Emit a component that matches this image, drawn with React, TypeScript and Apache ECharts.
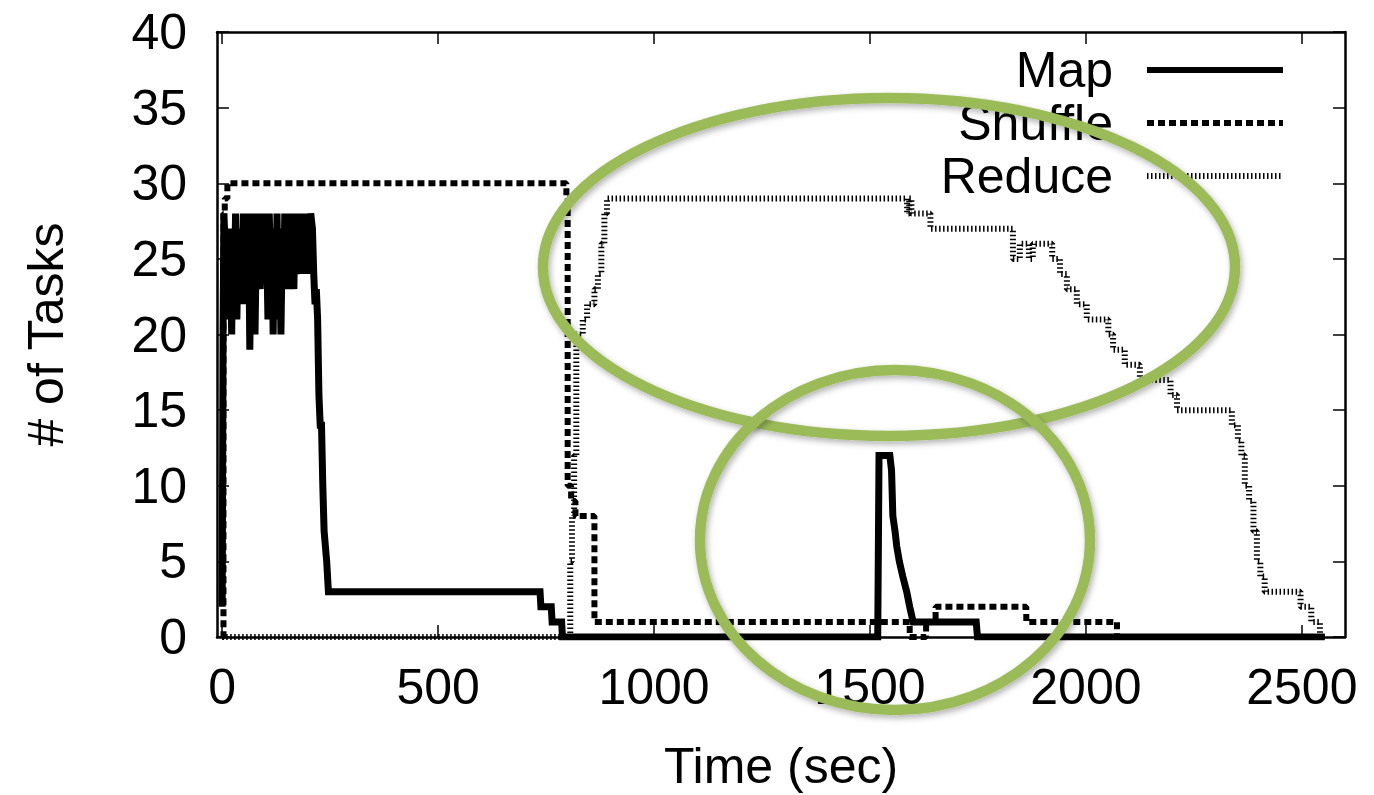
import React, { useEffect, useRef } from "react";
import * as echarts from "echarts";

const xTickValues = [0, 500, 1000, 1500, 2000, 2500];
const yTickValues = [0, 5, 10, 15, 20, 25, 30, 35, 40];

const mapSeries: [number, number][] = [
  [0, 2], [2, 20], [4, 28], [8, 25], [10, 22], [13, 27], [16, 21], [19, 26], [22, 20], [25, 27],
  [28, 23], [31, 28], [34, 21], [37, 26], [40, 22], [43, 27], [46, 23], [49, 28], [52, 22], [55, 26],
  [58, 24], [61, 28], [64, 19], [67, 27], [70, 22], [73, 28], [76, 20], [79, 26], [82, 25], [85, 28],
  [88, 23], [91, 27], [94, 25], [97, 28], [100, 24], [103, 26], [106, 21], [109, 28], [112, 24], [115, 27],
  [118, 20], [121, 26], [124, 23], [127, 28], [130, 21], [133, 27], [136, 20], [139, 26], [142, 23], [145, 28],
  [148, 25], [151, 27], [154, 23], [157, 28], [160, 24], [163, 27], [166, 23], [169, 28], [172, 24], [175, 26],
  [178, 25], [181, 28], [184, 24], [187, 27], [190, 25], [193, 28], [196, 24], [199, 28], [202, 26], [205, 28],
  [209, 27], [212, 24], [215, 22], [218, 23], [221, 21], [224, 16], [227, 14], [230, 14], [233, 10], [236, 7],
  [239, 6], [242, 5], [246, 3], [250, 3], [736, 3], [738, 2], [762, 2], [764, 1], [786, 1], [788, 0],
  [1518, 0], [1521, 12], [1546, 12], [1550, 11], [1553, 8], [1558, 7], [1562, 6], [1568, 5], [1576, 4],
  [1585, 3], [1592, 2], [1600, 1], [1746, 1], [1749, 0], [2553, 0],
];

const shuffleSeries: [number, number][] = [
  [0, 0], [3, 28], [6, 29], [12, 30], [792, 30], [797, 29], [800, 10], [808, 9], [818, 8], [862, 1],
  [1592, 0], [1630, 1], [1652, 2], [1862, 1], [2072, 0], [2553, 0],
];

const reduceSeries: [number, number][] = [
  [0, 0], [806, 5], [810, 8], [815, 12], [820, 20], [835, 21], [845, 22], [862, 23], [870, 24],
  [878, 26], [885, 28], [891, 29], [1586, 28], [1591, 29], [1596, 28], [1640, 27], [1831, 25],
  [1847, 26], [1868, 25], [1877, 26], [1922, 25], [1940, 24], [1956, 23], [1979, 22], [2002, 21],
  [2052, 20], [2063, 19], [2090, 18], [2125, 17], [2196, 16], [2211, 15], [2338, 14], [2352, 13],
  [2360, 12], [2368, 10], [2378, 9], [2388, 7], [2396, 5], [2404, 4], [2414, 3], [2497, 2],
  [2522, 1], [2542, 0], [2553, 0],
];

const legendNames = ["Map", "Shuffle", "Reduce"];

const FONT = '"Liberation Sans", Arial, Helvetica, sans-serif';

export default function App() {
  const ref = useRef<HTMLDivElement>(null);
  useEffect(() => {
    if (!ref.current) return;
    const chart = echarts.init(ref.current, undefined, { renderer: "svg" });
    const tickStyle = { inside: true, length: 12, lineStyle: { color: "#000", width: 1.5 } };
    const axisLine = { show: true, onZero: false, lineStyle: { color: "#000", width: 2.5 } };
    const xBase = { type: "value" as const, min: -12, max: 2600, splitLine: { show: false }, axisLine };
    const yBase = { type: "value" as const, min: 0, max: 40, interval: 5, splitLine: { show: false }, axisLine };
    const lineStyles = [
      { color: "#000", width: 7, type: "solid" as any },
      { color: "#000", width: 6, type: [7, 4] as any },
      { color: "#000", width: 6, type: [1.5, 2.5] as any },
    ];
    const legendY = [70, 123, 176];
    const legendGraphics: any[] = [];
    legendNames.forEach((n, i) => {
      legendGraphics.push({
        type: "text",
        z: 50,
        style: { text: n, x: 1113, y: legendY[i], font: `50px ${FONT}`, fill: "#000", align: "right", verticalAlign: "middle" },
      });
      legendGraphics.push({
        type: "line",
        z: 50,
        shape: { x1: 1147, y1: legendY[i], x2: 1283, y2: legendY[i] },
        style: { stroke: "#000", lineWidth: 6, lineDash: i === 0 ? null : (lineStyles[i].type as number[]) },
      });
    });
    const ellipseStyle = {
      fill: "none",
      stroke: "#9bbb59",
      lineWidth: 10.5,
      shadowBlur: 6,
      shadowOffsetX: 2,
      shadowOffsetY: 3,
      shadowColor: "rgba(0,0,0,0.3)",
    };
    const fmt = (v: number) => String(v);
    chart.setOption({
      animation: false,
      backgroundColor: "#fff",
      textStyle: { fontFamily: FONT },
      grid: { left: 217, right: 29, top: 32, bottom: 158, outerBoundsMode: "none" } as any,
      xAxis: [
        {
          ...xBase,
          position: "bottom",
          name: "Time (sec)",
          nameLocation: "middle",
          nameGap: 104,
          nameTextStyle: { fontSize: 50, color: "#000", fontFamily: FONT },
          axisTick: { ...tickStyle, customValues: xTickValues },
          axisLabel: { customValues: xTickValues, formatter: fmt, fontSize: 50, color: "#000", margin: 25, fontFamily: FONT },
        },
        {
          ...xBase,
          position: "top",
          axisTick: { ...tickStyle, customValues: xTickValues },
          axisLabel: { show: false, customValues: xTickValues },
        },
      ],
      yAxis: [
        {
          ...yBase,
          position: "left",
          name: "# of Tasks",
          nameLocation: "middle",
          nameGap: 146,
          nameTextStyle: { fontSize: 50, color: "#000", fontFamily: FONT },
          axisTick: tickStyle,
          axisLabel: { fontSize: 50, color: "#000", margin: 30, fontFamily: FONT, formatter: fmt },
        },
        {
          ...yBase,
          position: "right",
          axisTick: tickStyle,
          axisLabel: { show: false },
        },
      ],
      series: [
        { name: legendNames[0], type: "line", data: mapSeries, symbol: "none", lineStyle: { ...lineStyles[0], join: "miter", miterLimit: 3 } },
        { name: legendNames[1], type: "line", step: "end", data: shuffleSeries, symbol: "none", lineStyle: { ...lineStyles[1], cap: "butt" } },
        { name: legendNames[2], type: "line", step: "end", data: reduceSeries, symbol: "none", lineStyle: { ...lineStyles[2], cap: "butt" } },
      ],
      graphic: [
        ...legendGraphics,
        { type: "ellipse", z: 100, shape: { cx: 889, cy: 267, rx: 346, ry: 169 }, style: ellipseStyle },
        { type: "ellipse", z: 100, shape: { cx: 895, cy: 540, rx: 195, ry: 170 }, style: ellipseStyle },
      ],
    });
    return () => chart.dispose();
  }, []);
  return <div ref={ref} style={{ position: "fixed", left: 0, top: 0, width: 1374, height: 795 }} />;
}
